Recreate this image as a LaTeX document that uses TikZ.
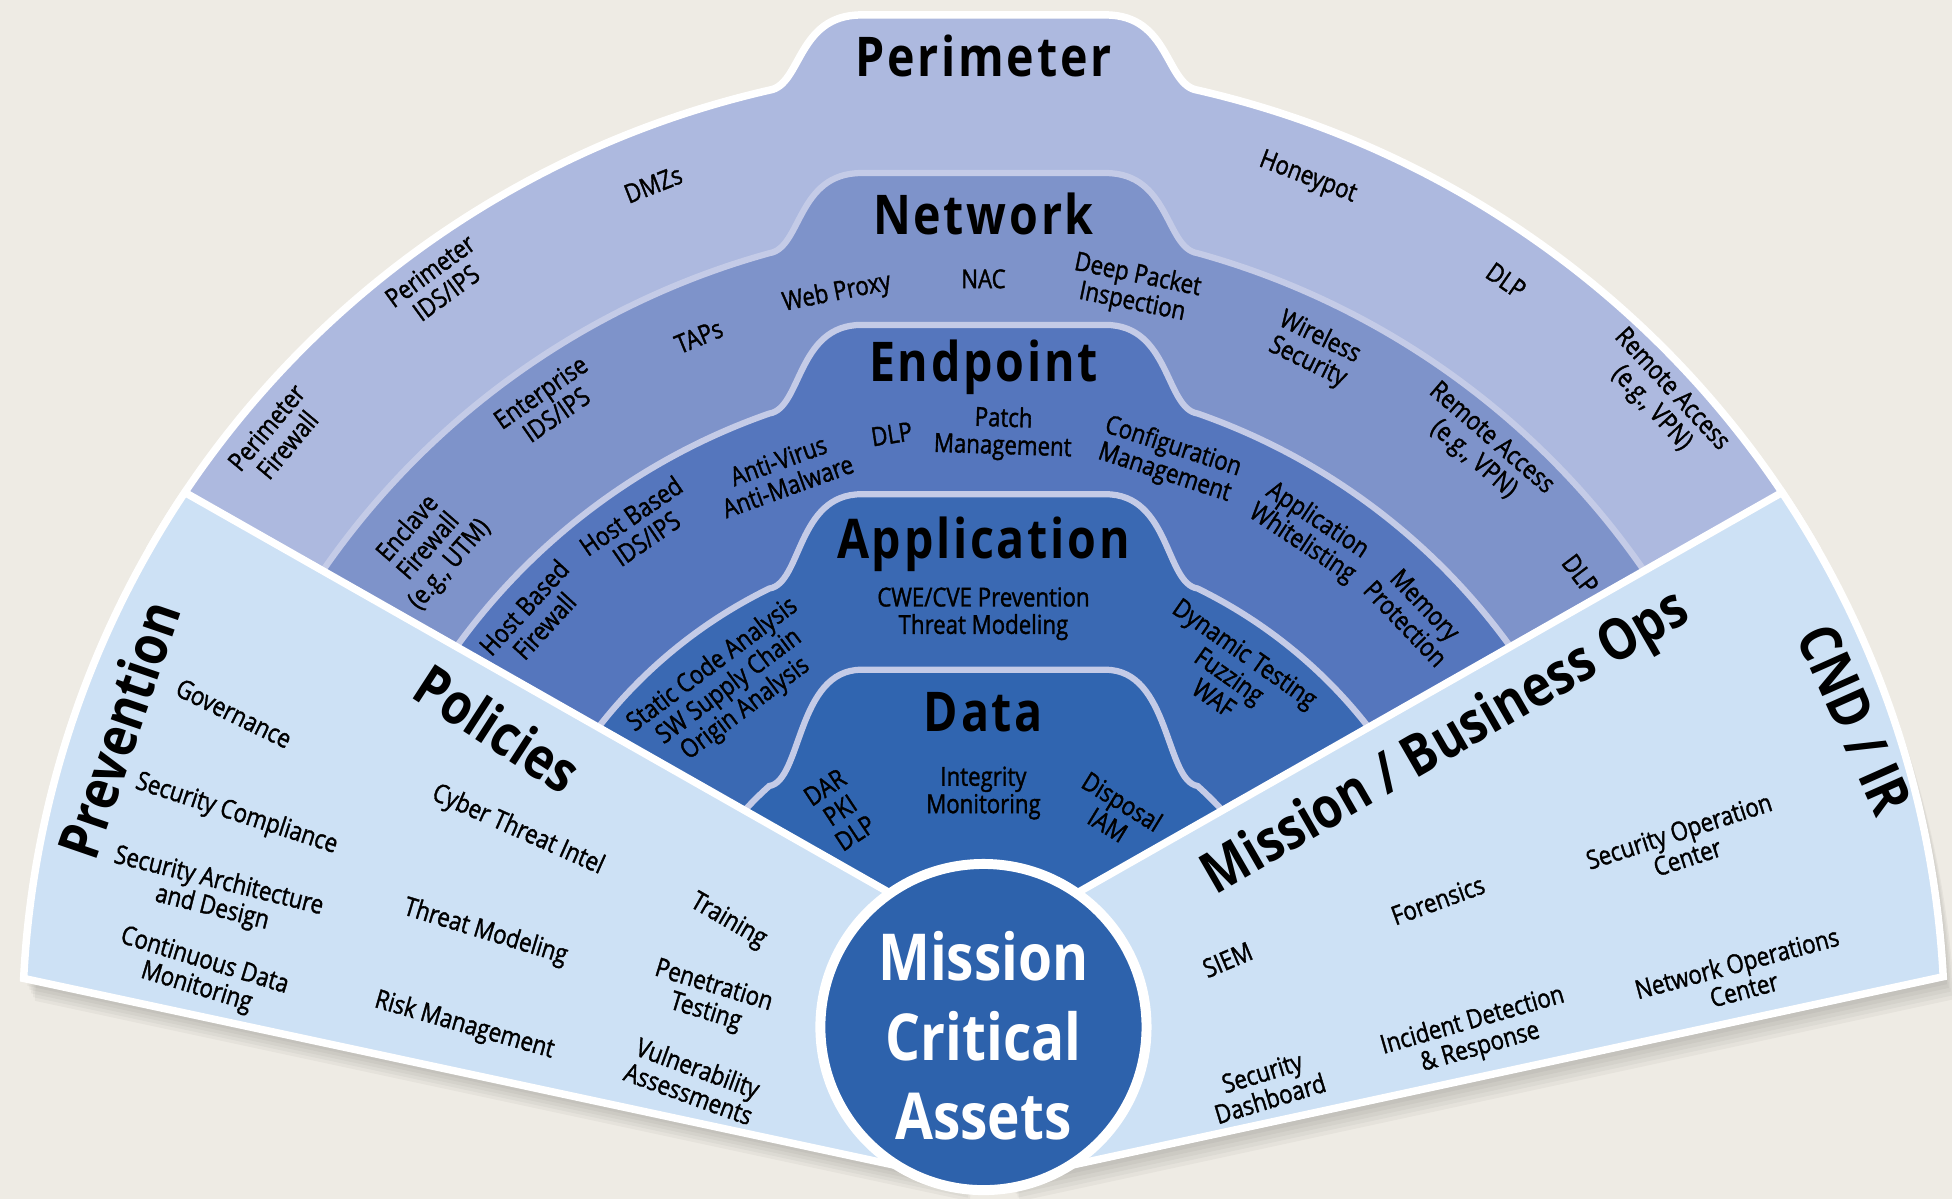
\documentclass[tikz,border=0pt]{standalone}
\usepackage{fontspec}
\setmainfont{Open Sans}[FakeStretch=0.85, UprightFeatures={FakeBold=1.4}]

\definecolor{bgcol}{HTML}{EEEBE4}
\definecolor{perim}{HTML}{ADB9DF}
\definecolor{netw}{HTML}{7E93CA}
\definecolor{endp}{HTML}{5576BD}
\definecolor{appl}{HTML}{3A69B3}
\definecolor{datac}{HTML}{3065B0}
\definecolor{corecol}{HTML}{2D62AC}
\definecolor{wedgecol}{HTML}{CDE1F5}
\definecolor{sepcol}{HTML}{C4CBE7}

% #1 = ring radius, #2 = top of the tab
\newcommand{\bandpath}[2]{(0,0) -- (150:#1)
  arc[start angle=150, end angle={acos(-1.72/(#1/100))}, radius=#1]
  .. controls (-146,{100*sqrt((#1/100)^2-2.9584)+4}) and (-150,#2) .. (-98,#2) -- (98,#2)
  .. controls (150,#2) and (146,{100*sqrt((#1/100)^2-2.9584)+4}) .. ({acos(1.72/(#1/100))}:#1)
  arc[start angle={acos(1.72/(#1/100))}, end angle=30, radius=#1] -- cycle}
\newcommand{\leftwedge}{(0,65) -- (146.2:772) arc[start angle=146.2, end angle=177.1, radius=772] -- (-20,-122) -- cycle}
\newcommand{\rightwedge}{(0,65) -- (33.8:772) arc[start angle=33.8, end angle=3.0, radius=772] -- (20,-122) -- cycle}

\tikzset{
  lbl/.style={font=\fontsize{21}{22}\selectfont, align=center, inner sep=0pt},
  ttl/.style={font=\fontsize{44}{44}\selectfont\bfseries\addfontfeature{LetterSpace=5}, inner sep=0pt},
  bigttl/.style={font=\fontsize{46}{46}\selectfont\bfseries, inner sep=0pt},
  tang/.style={rotate=#1-90},
}

\begin{document}
\begin{tikzpicture}[x=1pt, y=1pt]
  \fill[bgcol] (-790,-138) rectangle (778,825);
  \useasboundingbox (-790,-138) rectangle (778,825);

  % soft shadow
  \foreach \d in {3,6,...,18} {
    \fill[black, opacity=0.035, shift={(0.5*\d,-\d)}] \bandpath{772}{813};
    \fill[black, opacity=0.035, shift={(0.5*\d,-\d)}] \leftwedge;
    \fill[black, opacity=0.035, shift={(0.5*\d,-\d)}] \rightwedge;
  }

  % rings, outside in
  \filldraw[fill=perim, draw=white, line width=6pt] \bandpath{772}{813};
  \filldraw[fill=netw, draw=sepcol, line width=5pt] \bandpath{645}{686};
  \filldraw[fill=endp, draw=sepcol, line width=5pt] \bandpath{522}{564};
  \filldraw[fill=appl, draw=sepcol, line width=5pt] \bandpath{392}{428};
  \filldraw[fill=datac, draw=sepcol, line width=5pt] \bandpath{259}{287};

  \filldraw[fill=wedgecol, draw=white, line width=6pt] \leftwedge;
  \filldraw[fill=wedgecol, draw=white, line width=6pt] \rightwedge;
  \filldraw[fill=corecol, draw=white, line width=8pt] (0,0) circle (131);

  % titles
  \node[ttl] (tper) at (0,780) {Perimeter};
  \node[ttl] (tnet) at (0,653) {Network};
  \node[ttl] (tend) at (0,530) {Endpoint};
  \node[ttl] (tapp) at (0,388) {Application};
  \node[ttl] (tdat) at (0,253) {Data};

  % perimeter
  \node[lbl, tang=140.1] (perfw) at (140.1:740) {Perimeter\\Firewall};
  \node[lbl, tang=126.2] (perids) at (126.2:742) {Perimeter\\IDS/IPS};
  \node[lbl, tang=111.4] (dmz) at (111.4:727) {DMZs};
  \node[lbl, tang=69.1] (honey) at (69.1:730) {Honeypot};
  \node[lbl, tang=55] (perdlp) at (55:732) {DLP};
  \node[lbl, tang=42.8] (perra) at (42.8:742) {Remote Access\\(e.g., VPN)};

  % network
  \node[lbl, tang=139.1] (encl) at (139.1:589) {Enclave\\Firewall\\(e.g., UTM)};
  \node[lbl, tang=124.9] (entids) at (124.9:611) {Enterprise\\IDS/IPS};
  \node[lbl, tang=112.4] (taps) at (112.4:600) {TAPs};
  \node[lbl, tang=101.3] (proxy) at (101.3:601) {Web Proxy};
  \node[lbl, tang=90] (nac) at (90:601) {NAC};
  \node[lbl, tang=78.4] (dpi) at (78.4:605) {Deep Packet\\Inspection};
  \node[lbl, tang=64] (wifi) at (64:605) {Wireless\\Security};
  \node[lbl, tang=49.2] (netra) at (49.2:613) {Remote Access\\(e.g., VPN)};
  \node[lbl, tang=37.2] (netdlp) at (37.2:602) {DLP};

  % endpoint
  \node[lbl, tang=137.6] (hbfw) at (137.6:489) {Host Based\\Firewall};
  \node[lbl, tang=124.6] (hbids) at (124.6:488) {Host Based\\IDS/IPS};
  \node[lbl, tang=109.9] (av) at (109.9:473) {Anti-Virus\\Anti-Malware};
  \node[lbl, tang=98.8] (enddlp) at (98.8:482) {DLP};
  \node[lbl, tang=88.1] (patch) at (88.1:477) {Patch\\Management};
  \node[lbl, tang=71.9] (conf) at (71.9:479) {Configuration\\Management};
  \node[lbl, tang=56.6] (awl) at (56.6:476) {Application\\Whitelisting};
  \node[lbl, tang=43.7] (mem) at (43.7:480) {Memory\\Protection};

  % application
  \node[lbl, tang=126.8] (sca) at (126.8:341) {Static Code Analysis\\SW Supply Chain\\Origin Analysis};
  \node[lbl, tang=90] (cwe) at (90:332) {CWE/CVE Prevention\\Threat Modeling};
  \node[lbl, tang=55] (dyn) at (55:345) {Dynamic Testing\\Fuzzing\\WAF};

  % data
  \node[lbl, tang=123.5] (dar) at (123.5:209) {DAR\\PKI\\DLP};
  \node[lbl, tang=90] (integ) at (90:188) {Integrity\\Monitoring};
  \node[lbl, tang=58.4] (disp) at (58.4:202) {Disposal\\IAM};

  % left wedge
  \node[bigttl, rotate=71] (prev) at (-695,239) {Prevention};
  \node[bigttl, rotate=-33] (pol) at (-390,240) {Policies};
  \node[lbl, rotate=-26] (gov) at (-602,252) {Governance};
  \node[lbl, rotate=-18] (comp) at (-600,171) {Security Compliance};
  \node[lbl, rotate=-14] (arch) at (-617,106) {Security Architecture\\and Design};
  \node[lbl, rotate=-17] (cdm) at (-629,42) {Continuous Data\\Monitoring};
  \node[lbl, rotate=-24] (cti) at (-374,158) {Cyber Threat Intel};
  \node[lbl, rotate=-17] (tmod) at (-400,76) {Threat Modeling};
  \node[lbl, rotate=-16] (risk) at (-417,1) {Risk Management};
  \node[lbl, rotate=-30] (train) at (-205,85) {Training};
  \node[lbl, rotate=-17] (pent) at (-220,22) {Penetration\\Testing};
  \node[lbl, rotate=-20] (vuln) at (-233,-43) {Vulnerability\\Assessments};

  % right wedge
  \node[bigttl, rotate=30] (mbo) at (372,227) {Mission / Business Ops};
  \node[bigttl, rotate=-66] (cnd) at (700,247) {CND / IR};
  \node[lbl, rotate=18] (soc) at (562,147) {Security Operation\\Center};
  \node[lbl, rotate=20] (foren) at (365,102) {Forensics};
  \node[lbl, rotate=23] (siem) at (196,54) {SIEM};
  \node[lbl, rotate=15] (noc) at (608,41) {Network Operations\\Center};
  \node[lbl, rotate=16] (idr) at (396,-6) {Incident Detection\\\& Response};
  \node[lbl, rotate=17] (dash) at (227,-47) {Security\\Dashboard};

  \node[font=\fontsize{52}{64}\selectfont\bfseries, text=white, align=center, inner sep=0pt] (core) at (0,-7) {Mission\\Critical\\Assets};
\end{tikzpicture}
\end{document}
